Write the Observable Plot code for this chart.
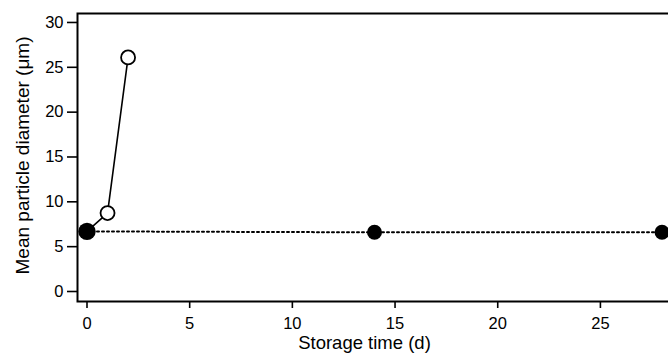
<!DOCTYPE html>
<html>
<head>
<meta charset="utf-8">
<script src="https://cdn.jsdelivr.net/npm/d3@7"></script>
<script src="https://cdn.jsdelivr.net/npm/@observablehq/plot@0.6"></script>
<style>
  html, body { margin: 0; padding: 0; background: #fff; overflow: hidden; }
  #chart { width: 668px; height: 356px; overflow: hidden; }
  #chart svg { display: block; max-width: none !important; width: 680px; height: 356px; }
  #chart g[aria-label$="tick"] path { stroke-width: 1.6; }
</style>
</head>
<body>
<div id="chart"></div>
<script>
// Data
const openDays = [0, 1, 2];
const openDiameter = [6.7, 8.75, 26.1];
const filledDays = [0, 14, 28];
const filledDiameter = [6.7, 6.6, 6.6];
const xTicks = [0, 5, 10, 15, 20, 25];
const yTicks = [0, 5, 10, 15, 20, 25, 30];
const xTitle = "Storage time (d)";
const yTitle = "Mean particle diameter (μm)";

const openData = openDays.map((d, i) => ({day: d, diameter: openDiameter[i]}));
const filledData = filledDays.map((d, i) => ({day: d, diameter: filledDiameter[i]}));
const firstFilled = filledData.slice(0, 1);
const laterFilled = filledData.slice(1);
const openOnly = openData.slice(1);

const chart = Plot.plot({
  width: 680,
  height: 356,
  marginLeft: 77,
  marginRight: 0,
  marginTop: 13,
  marginBottom: 55,
  style: {fontFamily: "'Liberation Sans', Arial, sans-serif", fontSize: "16.5px", color: "#000", background: "#fff", maxWidth: "none"},
  x: {domain: [-0.4626, 28.9], ticks: xTicks, tickSize: 7, tickPadding: 9, label: null},
  y: {domain: [-1.115, 31.0], ticks: yTicks, tickSize: 10, tickPadding: 4, label: null},
  marks: [
    Plot.frame({stroke: "#000", strokeWidth: 2}),
    Plot.line(filledData, {x: "day", y: "diameter", stroke: "#000", strokeWidth: 2, strokeDasharray: "2,3"}),
    Plot.line(openData, {x: "day", y: "diameter", stroke: "#000", strokeWidth: 1.6}),
    Plot.dot(openOnly, {x: "day", y: "diameter", r: 7, fill: "#fff", stroke: "#000", strokeWidth: 1.8}),
    Plot.dot(laterFilled, {x: "day", y: "diameter", r: 7.5, fill: "#000", stroke: "none"}),
    Plot.dot(firstFilled, {x: "day", y: "diameter", r: 8.7, fill: "#000", stroke: "none"}),
    Plot.text([xTitle], {frameAnchor: "bottom", text: d => d, dx: -14.5, dy: 47, lineAnchor: "bottom", fontSize: 18.5, fill: "#000"}),
    Plot.text([yTitle], {frameAnchor: "left", text: d => d, rotate: -90, dx: -55, dy: -2, lineAnchor: "middle", textAnchor: "middle", fontSize: 19, fill: "#000"})
  ]
});
document.getElementById("chart").appendChild(chart);
</script>
</body>
</html>
